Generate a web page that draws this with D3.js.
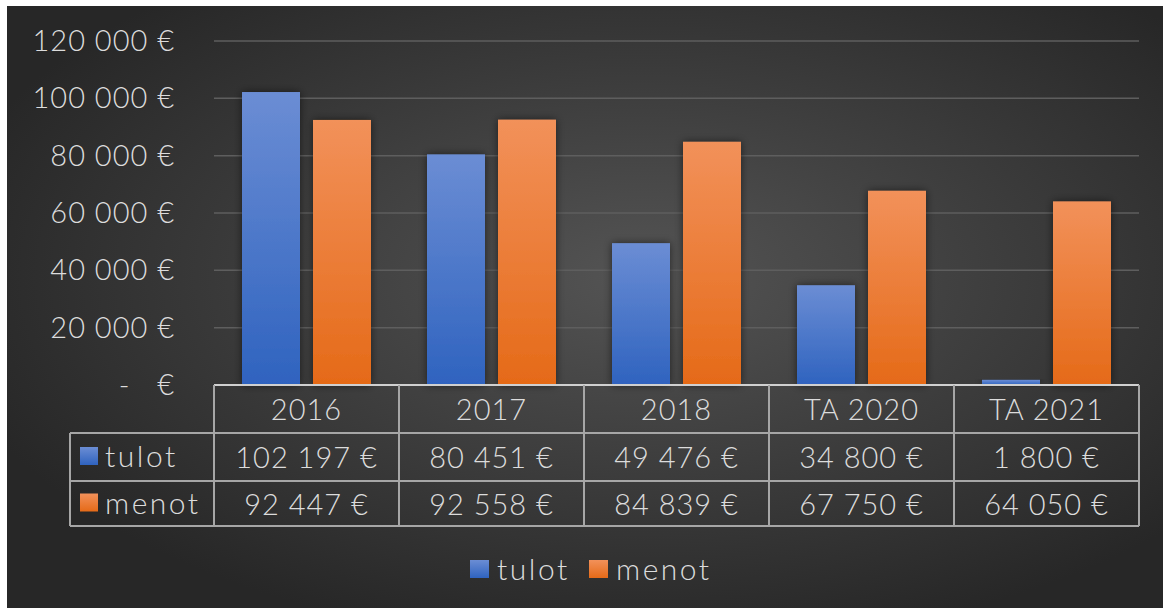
<!DOCTYPE html>
<html>
<head>
<meta charset="utf-8">
<script src="https://cdn.jsdelivr.net/npm/d3@7"></script>
<style>
  body { margin: 0; background: #fff; }
  text { font-family: Lato, "Open Sans", sans-serif; font-weight: 300; fill: #dcdcdc; letter-spacing: 1px; }
</style>
</head>
<body>
<script>
// chart data
var categories = ['2016', '2017', '2018', 'TA 2020', 'TA 2021'];
var series = ['tulot', 'menot'];
var tulot = [102197, 80451, 49476, 34800, 1800];
var menot = [92447, 92558, 84839, 67750, 64050];
var yTicks = [0, 20000, 40000, 60000, 80000, 100000, 120000];

var width = 1165, height = 608;
var plotLeft = 214, plotRight = 1139, plotTop = 41, plotBottom = 385;
var rowH = 48, tableLeft = 70;
var colors = {tulot: ['#6b8dd4', '#2f63bf'], menot: ['#f2915a', '#e56a18']};

var loc = d3.formatLocale({decimal: ',', thousands: '\u00a0', grouping: [3], currency: ['', '\u00a0€']});
var fmt = function(v) { return v === 0 ? '-\u00a0\u00a0\u00a0€' : loc.format('$,.0f')(v); };

var svg = d3.select('body').append('svg').attr('width', width).attr('height', height);
var defs = svg.append('defs');

var bg = defs.append('radialGradient').attr('id', 'bg').attr('cx', '55%').attr('cy', '45%').attr('r', '62%');
bg.append('stop').attr('offset', '0%').attr('stop-color', '#545454');
bg.append('stop').attr('offset', '100%').attr('stop-color', '#272727');

series.forEach(function(s) {
  var g = defs.append('linearGradient').attr('id', 'grad_' + s).attr('x1', 0).attr('y1', 0).attr('x2', 0).attr('y2', 1);
  g.append('stop').attr('offset', '0%').attr('stop-color', colors[s][0]);
  g.append('stop').attr('offset', '100%').attr('stop-color', colors[s][1]);
});

var shadow = defs.append('filter').attr('id', 'shadow').attr('x', '-30%').attr('y', '-10%').attr('width', '160%').attr('height', '130%');
shadow.append('feDropShadow').attr('dx', 0).attr('dy', 0).attr('stdDeviation', 4)
  .attr('flood-color', '#000').attr('flood-opacity', 0.55);

svg.append('rect').attr('x', 7).attr('y', 6).attr('width', 1156).attr('height', 602).attr('fill', 'url(#bg)');

var x0 = d3.scaleBand().domain(categories).range([plotLeft, plotRight]).padding(0);
var x1 = d3.scaleBand().domain(series).range([0, x0.bandwidth()]).paddingInner(13 / 71).paddingOuter(28 / 71);
var y = d3.scaleLinear().domain([0, 120000]).range([plotBottom, plotTop]);

// gridlines
svg.append('g').selectAll('line').data(yTicks.slice(1)).enter().append('line')
  .attr('x1', plotLeft).attr('x2', plotRight)
  .attr('y1', function(d) { return y(d); }).attr('y2', function(d) { return y(d); })
  .attr('stroke', '#5e5e5e').attr('stroke-width', 1.5);

// y tick labels
svg.append('g').selectAll('text').data(yTicks).enter().append('text')
  .attr('x', 175).attr('y', function(d) { return y(d) + 10; })
  .attr('text-anchor', 'end').attr('font-size', 29)
  .text(fmt);

// bars
var data = {tulot: tulot, menot: menot};
var bars = svg.append('g');
series.forEach(function(s) {
  bars.selectAll('.bar_' + s).data(data[s]).enter().append('rect')
    .attr('class', 'bar_' + s)
    .attr('x', function(d, i) { return x0(categories[i]) + x1(s); })
    .attr('width', x1.bandwidth())
    .attr('y', function(d) { return y(d); })
    .attr('height', function(d) { return y(0) - y(d); })
    .attr('fill', 'url(#grad_' + s + ')')
    .attr('filter', 'url(#shadow)');
});

// data table
var table = svg.append('g');
var lineCol = '#a6a6a6';
table.append('line').attr('x1', plotLeft).attr('x2', plotRight).attr('y1', plotBottom).attr('y2', plotBottom)
  .attr('stroke', '#d0d0d0').attr('stroke-width', 2);
[1, 2, 3].forEach(function(r) {
  table.append('line').attr('x1', tableLeft).attr('x2', plotRight)
    .attr('y1', plotBottom + r * rowH - (r == 3 ? 3 : 0)).attr('y2', plotBottom + r * rowH - (r == 3 ? 3 : 0))
    .attr('stroke', lineCol).attr('stroke-width', 2);
});
var tableBottom = plotBottom + 3 * rowH - 3;
table.append('line').attr('x1', tableLeft).attr('x2', tableLeft).attr('y1', plotBottom + rowH).attr('y2', tableBottom)
  .attr('stroke', lineCol).attr('stroke-width', 2);
table.selectAll('.vline').data(categories.concat(['end'])).enter().append('line')
  .attr('x1', function(d, i) { return plotLeft + i * x0.bandwidth(); })
  .attr('x2', function(d, i) { return plotLeft + i * x0.bandwidth(); })
  .attr('y1', plotBottom).attr('y2', tableBottom)
  .attr('stroke', lineCol).attr('stroke-width', 2);

table.selectAll('.cat').data(categories).enter().append('text')
  .attr('x', function(d) { return x0(d) + x0.bandwidth() / 2; })
  .attr('y', plotBottom + 35).attr('text-anchor', 'middle').attr('font-size', 29)
  .text(function(d) { return d; });

series.forEach(function(s, r) {
  var rowTop = plotBottom + (r + 1) * rowH - r * 1.5;
  table.append('rect').attr('x', 80).attr('y', rowTop + 14).attr('width', 18).attr('height', 18)
    .attr('fill', 'url(#grad_' + s + ')');
  table.append('text').attr('x', 105).attr('y', rowTop + 34).attr('font-size', 30)
    .style('letter-spacing', '2.5px').text(s);
  table.selectAll('.val_' + s).data(data[s]).enter().append('text')
    .attr('x', function(d, i) { return x0(categories[i]) + x0.bandwidth() / 2; })
    .attr('y', rowTop + 35).attr('text-anchor', 'middle').attr('font-size', 29)
    .text(fmt);
});

// legend
var legend = svg.append('g');
var legX = [470, 589];
series.forEach(function(s, i) {
  legend.append('rect').attr('x', legX[i]).attr('y', 560).attr('width', 19).attr('height', 18)
    .attr('fill', 'url(#grad_' + s + ')');
  legend.append('text').attr('x', legX[i] + 27).attr('y', 580).attr('font-size', 30)
    .style('letter-spacing', '2.5px').text(s);
});
</script>
</body>
</html>
